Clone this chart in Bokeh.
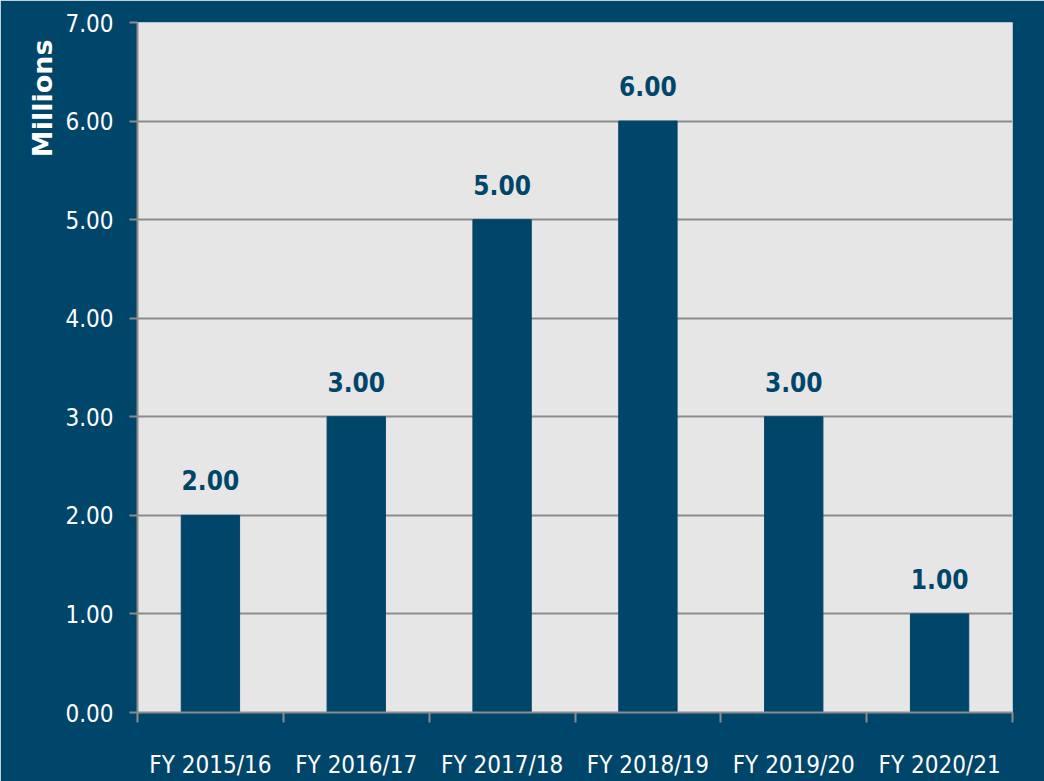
import numpy as np
from bokeh.plotting import figure
from bokeh.models import FixedTicker, NumeralTickFormatter, ColumnDataSource, Range1d
from bokeh.core.properties import value
from bokeh.embed import file_html
from bokeh.resources import INLINE

categories = ["FY 2015/16", "FY 2016/17", "FY 2017/18", "FY 2018/19", "FY 2019/20", "FY 2020/21"]
values = [2.00, 3.00, 5.00, 6.00, 3.00, 1.00]
y_ticks = [0, 1, 2, 3, 4, 5, 6, 7]

BG = "#00466a"
BAR = "#00466a"
PLOT_BG = "#e6e6e6"
GRID = "#8c8c8c"
NARROW = "DejaVu Sans Condensed"

n = len(categories)
centers = (np.arange(n) + 0.5).tolist()
src = ColumnDataSource(dict(x=centers, top=values, cat=categories,
                            lab=[f"{v:.2f}" for v in values]))

p = figure(width=1044, height=781, output_backend="svg", toolbar_location=None,
           x_range=Range1d(0, n), y_range=Range1d(0, 7),
           title="Millions", title_location="left",
           min_border_left=137, min_border_right=32, min_border_top=22, min_border_bottom=69)
p.background_fill_color = PLOT_BG
p.border_fill_color = BG
p.outline_line_color = None

p.title.align = "right"
p.title.offset = 17
p.title.text_color = "white"
p.title.text_font = "DejaVu Sans"
p.title.text_font_size = "27px"
p.title.text_font_style = "bold"

p.vbar(x="x", top="top", width=0.4, bottom=0, source=src, fill_color=BAR, line_color=BAR)

p.text(x="x", y="top", text="lab", source=src, text_align="center", text_baseline="alphabetic",
       y_offset=-35, text_color="#00466a", text_font=value(NARROW), text_font_size="26px",
       text_font_style="bold")

# grid
p.xgrid.grid_line_color = None
p.ygrid.grid_line_color = GRID
p.ygrid.grid_line_width = 2
p.ygrid.ticker = FixedTicker(ticks=y_ticks)

# y axis
p.yaxis.ticker = FixedTicker(ticks=y_ticks)
p.yaxis.formatter = NumeralTickFormatter(format="0.00")
p.yaxis.axis_line_color = GRID
p.yaxis.axis_line_width = 2
p.yaxis.major_tick_line_color = GRID
p.yaxis.major_tick_line_width = 2
p.yaxis.major_tick_in = 0
p.yaxis.major_tick_out = 8
p.yaxis.minor_tick_line_color = None
p.yaxis.major_label_text_color = "white"
p.yaxis.major_label_text_font = NARROW
p.yaxis.major_label_text_font_size = "24px"
p.yaxis.major_label_standoff = 16

# x axis: labels at centers, ticks at category boundaries (minor ticks)
p.xaxis.ticker = FixedTicker(ticks=centers, minor_ticks=list(range(n + 1)))
p.xaxis.major_label_overrides = {c: cat for c, cat in zip(centers, categories)}
p.xaxis.axis_line_color = GRID
p.xaxis.axis_line_width = 2
p.xaxis.major_tick_line_color = None
p.xaxis.major_tick_in = 0
p.xaxis.major_tick_out = 10
p.xaxis.minor_tick_line_color = GRID
p.xaxis.minor_tick_line_width = 2
p.xaxis.minor_tick_in = 0
p.xaxis.minor_tick_out = 10
p.xaxis.major_label_text_color = "white"
p.xaxis.major_label_text_font = NARROW
p.xaxis.major_label_text_font_size = "24px"
p.xaxis.major_label_standoff = 28

open("out.html", "w").write(file_html(p, INLINE))
